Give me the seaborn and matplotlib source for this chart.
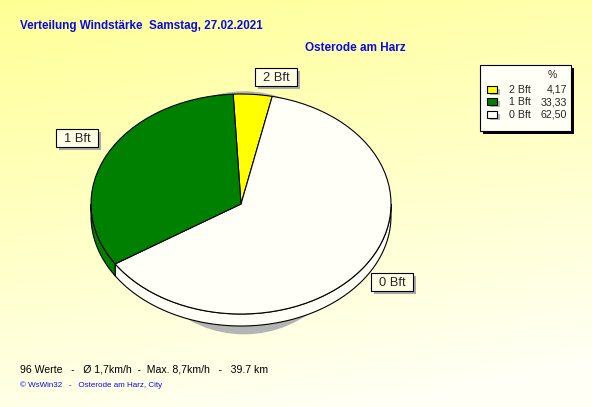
import numpy as np
import matplotlib
matplotlib.use('Agg')
import matplotlib.pyplot as plt
from matplotlib.patches import Rectangle, Ellipse
import seaborn as sns

# slices, clockwise from the top
slice_labels = ['2 Bft', '0 Bft', '1 Bft']
slice_pct = [4.17, 62.50, 33.33]
slice_colors = ['#FFFF00', '#FFFFF8', '#008000']

# legend rows (top to bottom)
legend_labels = ['2 Bft', '1 Bft', '0 Bft']
legend_values = ['4,17', '33,33', '62,50']
legend_colors = ['#FFFF00', '#008000', '#FFFFF8']

title = 'Verteilung Windstärke  Samstag, 27.02.2021'
station = 'Osterode am Harz'
footer = '96 Werte   -   Ø 1,7km/h  -  Max. 8,7km/h   -   39.7 km'
credit = '© WsWin32   -   Osterode am Harz, City'

sns.set_theme(style='white')
plt.rcParams['font.family'] = ['Liberation Sans', 'DejaVu Sans']

W, H = 592, 407
fig = plt.figure(figsize=(W / 100, H / 100), dpi=100)

# background, pixel coordinates
bg = fig.add_axes([0, 0, 1, 1])
bg.set_xlim(0, W)
bg.set_ylim(H, 0)
bg.axis('off')
yy, xx = np.mgrid[0:H, 0:W]
t = np.clip(0.85 * yy / H + 0.25 * xx / W, 0, 1)
top = np.array([255, 255, 150]) / 255
bot = np.array([255, 255, 245]) / 255
grad = top[None, None, :] * (1 - t[..., None]) + bot[None, None, :] * t[..., None]
bg.imshow(grad, extent=(0, W, H, 0), aspect='auto', zorder=0)

blue = '#0A0AE6'
bg.text(20, 26, title, color=blue, fontsize=8.4, fontweight='bold', va='center', ha='left')
bg.text(305, 48, station, color=blue, fontsize=8.5, fontweight='bold', va='center', ha='left')
bg.text(20, 369, footer, color='black', fontsize=7.6, va='center', ha='left')
bg.text(20, 385, credit, color=blue, fontsize=5.8, va='center', ha='left')

# pie axes: centre (241, 204) px, radii 150 x 110 px
cx, cy, rx, ry = 241, 204, 150, 110
px0, px1, py0, py1 = 75, 415, 80, 350
pax = fig.add_axes([px0 / W, 1 - py1 / H, (px1 - px0) / W, (py1 - py0) / H])
pax.set_facecolor('none')

depth = 12 / ry
pax.add_patch(Ellipse((0.02, -0.08), 1.56, 2.21, color='#B4B4B4', zorder=1, lw=0))

wedges, _ = pax.pie(slice_pct, colors=slice_colors, startangle=93, counterclock=False,
                    wedgeprops=dict(edgecolor='black', linewidth=0.8), normalize=True)
for w in wedges:
    w.set_zorder(4)

# side walls of the front half
for w, c in zip(wedges, slice_colors):
    a1, a2 = w.theta1, w.theta2
    for k in range(-2, 2):
        lo, hi = max(a1, 180 + 360 * k), min(a2, 360 + 360 * k)
        if hi > lo:
            th = np.radians(np.linspace(lo, hi, 80))
            xs = np.cos(th)
            ys = np.sin(th)
            px = np.concatenate([xs, xs[::-1]])
            py = np.concatenate([ys, ys[::-1] - depth])
            pax.fill(px, py, facecolor=c, edgecolor='black', linewidth=0.8, zorder=3)

pax.set_aspect('auto')
pax.set_xlim((px0 - cx) / rx, (px1 - cx) / rx)
pax.set_ylim((cy - py1) / ry, (cy - py0) / ry)
pax.axis('off')

# slice labels (boxes with shadow)
label_pos = {'2 Bft': (276, 77), '1 Bft': (77, 138), '0 Bft': (392, 282)}
for lab, (x, y) in label_pos.items():
    bw, bh = 42, 18
    bg.add_patch(Rectangle((x - bw / 2 + 3, y - bh / 2 + 3), bw, bh, color='#A8A8A8', lw=0, zorder=5))
    bg.add_patch(Rectangle((x - bw / 2, y - bh / 2), bw, bh, facecolor='#FFFFE6',
                           edgecolor='black', lw=0.8, zorder=6))
    bg.text(x + 0.5, y + 1, lab, fontsize=9.3, ha='center', va='center', zorder=7)

# legend box
lx, ly, lw_, lh = 480, 65, 91, 66
bg.add_patch(Rectangle((lx + 3, ly + 3), lw_, lh, color='black', lw=0, zorder=5))
bg.add_patch(Rectangle((lx, ly), lw_, lh, facecolor='#FFFFF5', edgecolor='black', lw=0.8, zorder=6))
bg.text(552, 75, '%', fontsize=7.5, ha='center', va='center', zorder=7)
for i, (lab, val, c) in enumerate(zip(legend_labels, legend_values, legend_colors)):
    y = 91 + i * 12.3
    bg.add_patch(Rectangle((490, y - 2), 10, 6, color='#B4B4B4', lw=0, zorder=6))
    bg.add_patch(Rectangle((487, y - 5), 10, 7, facecolor=c, edgecolor='black', lw=0.8, zorder=7))
    bg.text(509, y - 1, lab, fontsize=7.7, ha='left', va='center', zorder=7)
    bg.text(567, y - 1, val, fontsize=7.7, ha='right', va='center', zorder=7)

fig.savefig('out.png', dpi=100)
